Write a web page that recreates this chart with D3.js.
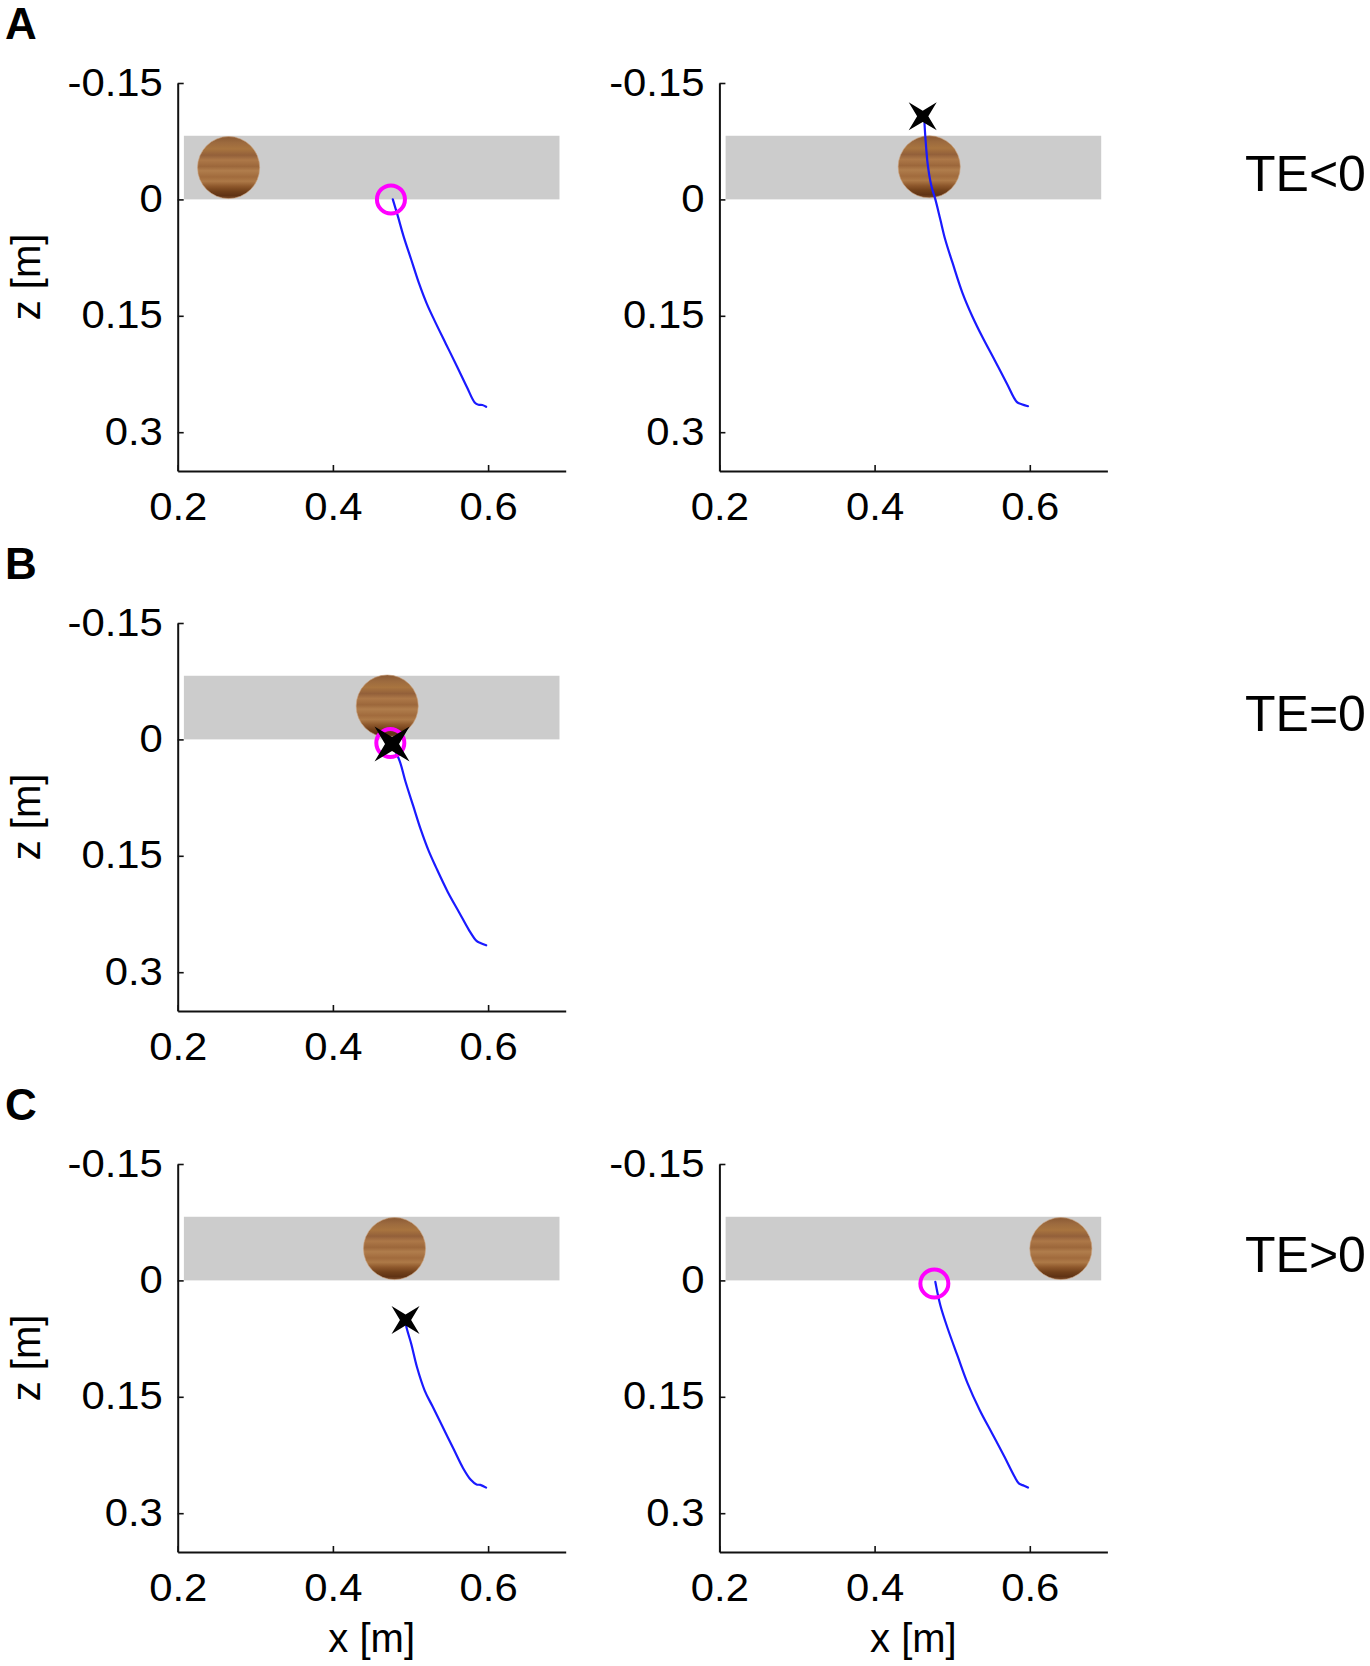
<!DOCTYPE html>
<html><head><meta charset="utf-8">
<script src="https://cdn.jsdelivr.net/npm/d3@7"></script>
<style>body{margin:0;background:#fff} svg{display:block}</style>
</head><body>
<svg id="fig" width="1370" height="1666"></svg>
<script>
// ---------- data ----------
const xTicks = [0.2, 0.4, 0.6];
const zTicks = [-0.15, 0, 0.15, 0.3];
const xTickLabels = ["0.2", "0.4", "0.6"];
const zTickLabels = ["-0.15", "0", "0.15", "0.3"];
const xDomain = [0.2, 0.7];
const zDomain = [-0.15, 0.35];
const panelLetters = ["A", "B", "C"];
const rowLabels = ["TE<0", "TE=0", "TE>0"];
const xAxisTitle = "x [m]";
const zAxisTitle = "z [m]";
const zoneX = [0.208, 0.692];
const zoneZ = [-0.082, 0];
const ballRadius = 0.04;

// panels in order: A-left, A-right, B-left, C-left, C-right
const panelIds = ["A1", "A2", "B1", "C1", "C2"];
const ballX = [0.2656, 0.4704, 0.470, 0.4794, 0.640];
const ballZ = [-0.041, -0.042, -0.043, -0.041, -0.041];

const trajA1 = [[0.4772,0],[0.4837,0.0216],[0.4911,0.0476],[0.5010,0.0778],[0.5109,0.108],[0.5208,0.134],[0.5307,0.1556],[0.5455,0.1859],[0.5604,0.2162],[0.5728,0.2421],[0.5827,0.2616],[0.5876,0.2646],[0.5926,0.2650],[0.5975,0.2672]];
const trajA2 = [[0.4643,-0.0983],[0.4656,-0.0776],[0.4687,-0.0431],[0.4732,-0.0172],[0.4783,0],[0.4847,0.0259],[0.4910,0.0517],[0.5005,0.0819],[0.5133,0.1207],[0.5260,0.1509],[0.5386,0.1768],[0.5546,0.2070],[0.5704,0.2372],[0.5832,0.2609],[0.5895,0.2639],[0.5977,0.2665]];
const trajB1 = [[0.4762,0.0058],[0.4861,0.028],[0.4936,0.0546],[0.5035,0.0857],[0.5134,0.1167],[0.5233,0.1434],[0.5332,0.1656],[0.5480,0.1966],[0.5629,0.2233],[0.5752,0.2454],[0.5851,0.2597],[0.5901,0.2623],[0.5975,0.2654]];
const trajC1 = [[0.4936,0.051],[0.4946,0.0595],[0.5010,0.082],[0.5084,0.112],[0.5183,0.142],[0.5282,0.162],[0.5406,0.187],[0.5554,0.217],[0.5678,0.242],[0.5777,0.257],[0.5851,0.263],[0.5900,0.2635],[0.5975,0.267]];
const trajC2 = [[0.4783,0.002],[0.4847,0.032],[0.4942,0.062],[0.5068,0.097],[0.5196,0.132],[0.5354,0.167],[0.5513,0.197],[0.5672,0.227],[0.5799,0.252],[0.5862,0.262],[0.5926,0.2645],[0.5977,0.267]];
const trajectories = [trajA1, trajA2, trajB1, trajC1, trajC2];

// contact (magenta ring) and hand-at-contact (black star) markers, null if absent
const ringPoints = [[0.4748,0], null, [0.474,0.0045], null, [0.477,0.004]];
const starPoints = [null, [0.462,-0.107], [0.4762,0.0058], [0.4936,0.051], null];

// ---------- layout / style ----------
const panelRow = [0, 0, 1, 2, 2];
const panelCol = [0, 1, 0, 0, 1];
const colX = [177.7, 719.4];
const rowY = [83, 623, 1164];
const W = 388, H = 388;
const FONT = "'Liberation Sans', Arial, Helvetica, sans-serif";
const starSize = [0, 28, 35, 28, 0];

const svg = d3.select("#fig");
const defs = svg.append("defs");
const grad = defs.append("linearGradient").attr("id","wood")
  .attr("x1",0).attr("y1",0).attr("x2",0).attr("y2",1);
[[0,"#8a5a35"],[0.1,"#9c6a3e"],[0.2,"#a8743f"],[0.3,"#93603a"],[0.38,"#ad7848"],
 [0.48,"#9c673b"],[0.55,"#b07d4c"],[0.65,"#a16b3d"],[0.72,"#ad7947"],[0.8,"#8e582c"],
 [0.88,"#71401a"],[0.95,"#603314"],[1,"#7a4a28"]].forEach(s=>{
  grad.append("stop").attr("offset",s[0]).attr("stop-color",s[1]);
});

const star4 = {draw(ctx, size){
  const a = size/2, b = a*0.4;
  ctx.moveTo(a,-a); ctx.lineTo(b,0); ctx.lineTo(a,a); ctx.lineTo(0,b);
  ctx.lineTo(-a,a); ctx.lineTo(-b,0); ctx.lineTo(-a,-a); ctx.lineTo(0,-b); ctx.closePath();
}};

panelIds.forEach((id, i) => {
  const row = panelRow[i], col = panelCol[i];
  const g = svg.append("g").attr("transform", `translate(${colX[col]},${rowY[row]})`);
  const x = d3.scaleLinear().domain(xDomain).range([0, W]);
  const y = d3.scaleLinear().domain(zDomain).range([0, H]);

  g.append("rect")
    .attr("x", x(zoneX[0])).attr("width", x(zoneX[1]) - x(zoneX[0]))
    .attr("y", y(zoneZ[0])).attr("height", y(zoneZ[1]) - y(zoneZ[0]))
    .attr("fill", "#cccccc");

  g.append("ellipse")
    .attr("cx", x(ballX[i])).attr("cy", y(ballZ[i]))
    .attr("rx", x(ballX[i] + ballRadius) - x(ballX[i]))
    .attr("ry", y(ballZ[i] + ballRadius) - y(ballZ[i]))
    .attr("fill", "url(#wood)").attr("stroke","#c9a07a").attr("stroke-width",0.6);

  g.append("path").datum(trajectories[i])
    .attr("d", d3.line().x(d => x(d[0])).y(d => y(d[1])).curve(d3.curveCatmullRom))
    .attr("fill","none").attr("stroke","#1a1aff").attr("stroke-width",2.2)
    .attr("stroke-linejoin","round").attr("stroke-linecap","round");

  if (ringPoints[i]) {
    g.append("circle").attr("cx", x(ringPoints[i][0])).attr("cy", y(ringPoints[i][1]))
      .attr("r", 14).attr("fill","none").attr("stroke","#ff00ff").attr("stroke-width",4);
  }
  if (starPoints[i]) {
    g.append("path").attr("d", d3.symbol().type(star4).size(starSize[i])())
      .attr("transform", `translate(${x(starPoints[i][0])},${y(starPoints[i][1])})`)
      .attr("fill","#000");
  }

  // axes
  const xAx = g.append("g").attr("transform", `translate(0,${H})`)
    .call(d3.axisBottom(x).tickValues(xTicks).tickFormat((d,k)=>xTickLabels[k])
      .tickSizeInner(-6).tickSizeOuter(0).tickPadding(22));
  const zAx = g.append("g")
    .call(d3.axisLeft(y).tickValues(zTicks).tickFormat((d,k)=>zTickLabels[k])
      .tickSizeInner(-6).tickSizeOuter(0).tickPadding(13.6));
  [xAx, zAx].forEach(a => {
    a.select(".domain").attr("stroke","#111").attr("stroke-width",2);
    a.selectAll(".tick line").attr("stroke","#111").attr("stroke-width",1.6);
    a.selectAll(".tick text").attr("font-family",FONT).attr("font-size",38)
      .attr("fill","#000").attr("transform","scale(1.1,1)");
  });

  if (col === 0) {
    g.append("text").text(zAxisTitle)
      .attr("transform", `translate(${40 - colX[col]},${H/2}) rotate(-90)`)
      .attr("text-anchor","middle").attr("font-family",FONT).attr("font-size",40).attr("fill","#000");
  }
  if (row === 2) {
    g.append("text").text(xAxisTitle)
      .attr("x", W/2).attr("y", H + 100)
      .attr("text-anchor","middle").attr("font-family",FONT).attr("font-size",40).attr("fill","#000");
  }
});

// panel letters and row labels
rowY.forEach((ry, r) => {
  svg.append("text").text(panelLetters[r])
    .attr("x", 5).attr("y", ry - 44)
    .attr("font-family",FONT).attr("font-weight","bold").attr("font-size",44).attr("fill","#000");
  const yz = d3.scaleLinear().domain(zDomain).range([0, H]);
  svg.append("text").text(rowLabels[r])
    .attr("x", 1245).attr("y", ry + yz(0) - 8)
    .attr("font-family",FONT).attr("font-size",50).attr("fill","#000");
});
</script>
</body></html>
